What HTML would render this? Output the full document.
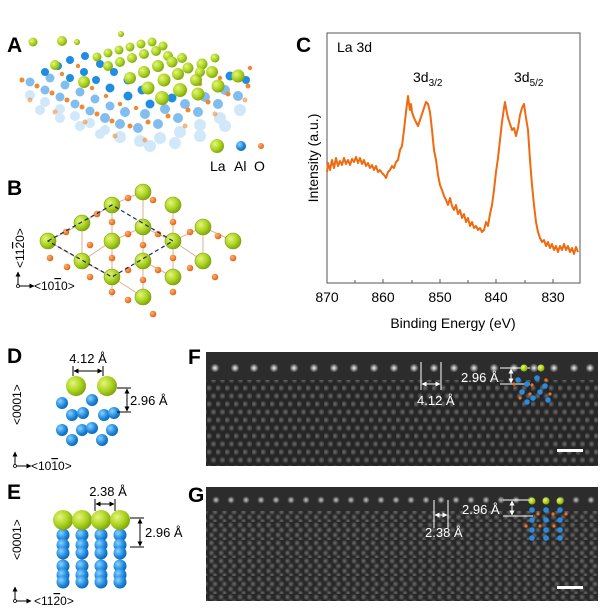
<!DOCTYPE html>
<html><head><meta charset="utf-8"><style>
html,body{margin:0;padding:0;background:#fff}
svg{display:block}
text{font-family:"Liberation Sans",sans-serif}
.lb{font-weight:bold;font-size:21px}
</style></head><body>
<svg width="600" height="610" viewBox="0 0 600 610" xmlns="http://www.w3.org/2000/svg">
<defs>
<radialGradient id="gG" cx="0.35" cy="0.35" r="0.7"><stop offset="0" stop-color="#e6f57a"/><stop offset="0.6" stop-color="#a8d21e"/><stop offset="1" stop-color="#7fa010"/></radialGradient>
<radialGradient id="gB" cx="0.35" cy="0.35" r="0.7"><stop offset="0" stop-color="#8fd0ff"/><stop offset="0.6" stop-color="#1f8de0"/><stop offset="1" stop-color="#1060b0"/></radialGradient>
<radialGradient id="gO" cx="0.35" cy="0.35" r="0.7"><stop offset="0" stop-color="#ffb070"/><stop offset="1" stop-color="#e06010"/></radialGradient>
<radialGradient id="dot" cx="0.5" cy="0.5" r="0.5"><stop offset="0" stop-color="#6e6e6e"/><stop offset="1" stop-color="#6e6e6e" stop-opacity="0"/></radialGradient>
<radialGradient id="dotB" cx="0.5" cy="0.5" r="0.5"><stop offset="0" stop-color="#f4f4f4"/><stop offset="1" stop-color="#eee" stop-opacity="0"/></radialGradient>
<pattern id="latF" width="9" height="16" patternUnits="userSpaceOnUse">
<rect width="9" height="16" fill="#262626"/>
<circle cx="2" cy="4" r="3.6" fill="url(#dot)"/><circle cx="6.5" cy="12" r="3.6" fill="url(#dot)"/>
</pattern>
<pattern id="latG" width="9.5" height="18" patternUnits="userSpaceOnUse">
<rect width="9.5" height="18" fill="#282828"/>
<circle cx="2.5" cy="3" r="3.4" fill="url(#dot)"/><circle cx="6" cy="8" r="3.4" fill="url(#dot)"/><circle cx="2.5" cy="13" r="3.4" fill="url(#dot)"/><circle cx="6" cy="17" r="2.8" fill="url(#dot)"/>
</pattern>
<marker id="ar" viewBox="0 0 10 10" refX="9" refY="5" markerWidth="5" markerHeight="5" orient="auto-start-reverse"><path d="M0,0L10,5L0,10z" fill="#000"/></marker>
<marker id="arw" viewBox="0 0 10 10" refX="9" refY="5" markerWidth="5" markerHeight="5" orient="auto-start-reverse"><path d="M0,0L10,5L0,10z" fill="#fff"/></marker>
</defs>

<!-- Panel A -->
<text class="lb" x="7" y="52">A</text>
<g id="A">
<g opacity="0.35">
<g fill="#7cc0f0">
<circle cx="30" cy="95" r="5"/><circle cx="45" cy="102" r="5"/><circle cx="60" cy="109" r="5"/><circle cx="75" cy="116" r="5"/><circle cx="90" cy="123" r="5"/><circle cx="105" cy="130" r="5"/><circle cx="120" cy="137" r="6"/><circle cx="140" cy="141" r="6"/><circle cx="160" cy="138" r="6"/><circle cx="180" cy="132" r="6"/><circle cx="200" cy="125" r="6"/><circle cx="220" cy="118" r="6"/><circle cx="240" cy="110" r="6"/>
<circle cx="40" cy="110" r="5"/><circle cx="60" cy="118" r="5"/><circle cx="80" cy="126" r="5"/><circle cx="100" cy="134" r="5"/><circle cx="150" cy="146" r="6"/><circle cx="175" cy="143" r="6"/><circle cx="200" cy="136" r="6"/><circle cx="225" cy="126" r="6"/>
</g></g>
<g fill="#58a8ea" opacity="0.75">
<circle cx="30" cy="82" r="4.5"/><circle cx="45" cy="90" r="4.5"/><circle cx="60" cy="97" r="4.5"/><circle cx="75" cy="104" r="4.5"/><circle cx="90" cy="111" r="4.5"/><circle cx="105" cy="118" r="5"/><circle cx="120" cy="124" r="5"/><circle cx="138" cy="128" r="5"/><circle cx="158" cy="124" r="5"/><circle cx="178" cy="118" r="5"/><circle cx="198" cy="112" r="5"/><circle cx="218" cy="104" r="5"/><circle cx="238" cy="96" r="5"/>
<circle cx="50" cy="78" r="4.5"/><circle cx="65" cy="85" r="4.5"/><circle cx="80" cy="92" r="4.5"/><circle cx="95" cy="99" r="4.5"/><circle cx="110" cy="106" r="4.5"/><circle cx="125" cy="112" r="5"/><circle cx="145" cy="114" r="5"/><circle cx="165" cy="109" r="5"/><circle cx="185" cy="104" r="5"/><circle cx="205" cy="97" r="5"/><circle cx="225" cy="90" r="5"/>
</g>
<g fill="#1f8de0">
<circle cx="45" cy="72" r="4"/><circle cx="58" cy="66" r="4"/><circle cx="70" cy="60" r="4"/><circle cx="70" cy="78" r="4"/><circle cx="84" cy="72" r="4"/><circle cx="96" cy="80" r="4"/><circle cx="110" cy="88" r="4.5"/><circle cx="85" cy="56" r="4"/><circle cx="100" cy="64" r="4"/><circle cx="114" cy="72" r="4"/><circle cx="128" cy="80" r="4.5"/><circle cx="142" cy="90" r="4.5"/><circle cx="128" cy="96" r="4.5"/><circle cx="150" cy="104" r="4.5"/><circle cx="172" cy="98" r="4.5"/><circle cx="230" cy="76" r="4.5"/><circle cx="246" cy="80" r="4"/>
</g>
<g fill="#f08a30">
<circle cx="22" cy="80" r="2.5"/><circle cx="37" cy="86" r="2.5"/><circle cx="52" cy="93" r="2.5"/><circle cx="67" cy="100" r="2.5"/><circle cx="82" cy="107" r="2.5"/><circle cx="97" cy="114" r="2.5"/><circle cx="112" cy="121" r="2.5"/><circle cx="130" cy="126" r="2.5"/><circle cx="148" cy="122" r="2.5"/><circle cx="168" cy="116" r="2.5"/><circle cx="188" cy="110" r="2.5"/><circle cx="208" cy="102" r="2.5"/><circle cx="228" cy="94" r="2.5"/><circle cx="248" cy="86" r="2.5"/>
<circle cx="30" cy="100" r="2.5" opacity=".6"/><circle cx="55" cy="112" r="2.5" opacity=".6"/><circle cx="85" cy="122" r="2.5" opacity=".6"/><circle cx="115" cy="136" r="2.5" opacity=".6"/><circle cx="145" cy="140" r="2.5" opacity=".6"/><circle cx="185" cy="126" r="2.5" opacity=".6"/><circle cx="215" cy="114" r="2.5" opacity=".6"/><circle cx="245" cy="100" r="2.5" opacity=".6"/>
<circle cx="62" cy="74" r="2.2"/><circle cx="78" cy="66" r="2.2"/><circle cx="92" cy="88" r="2.2"/><circle cx="106" cy="96" r="2.2"/><circle cx="120" cy="104" r="2.2"/><circle cx="136" cy="108" r="2.2"/><circle cx="160" cy="96" r="2.2"/><circle cx="180" cy="90" r="2.2"/><circle cx="200" cy="84" r="2.2"/><circle cx="220" cy="78" r="2.2"/><circle cx="240" cy="72" r="2.2"/><circle cx="250" cy="68" r="2.2"/>
</g>
<g fill="url(#gG)">
<circle cx="33" cy="42" r="4.5"/><circle cx="62" cy="41" r="5"/><circle cx="77" cy="42" r="3"/><circle cx="121" cy="34" r="3"/>
<circle cx="55" cy="65" r="5"/><circle cx="84" cy="82" r="6"/>
<circle cx="97" cy="57" r="4.5"/><circle cx="108" cy="53" r="4.5"/><circle cx="119" cy="50" r="4.5"/><circle cx="130" cy="47" r="4.5"/><circle cx="141" cy="44" r="4.5"/><circle cx="152" cy="42" r="4.5"/><circle cx="163" cy="46" r="4.5"/>
<circle cx="108" cy="66" r="5"/><circle cx="120" cy="62" r="5"/><circle cx="132" cy="58" r="5"/><circle cx="144" cy="54" r="5"/><circle cx="156" cy="51" r="5"/><circle cx="168" cy="56" r="5"/><circle cx="182" cy="58" r="5"/>
<circle cx="130" cy="78" r="6"/><circle cx="144" cy="72" r="6"/><circle cx="158" cy="66" r="6"/><circle cx="172" cy="62" r="5.5"/><circle cx="188" cy="68" r="5.5"/><circle cx="202" cy="64" r="5.5"/>
<circle cx="148" cy="88" r="6.5"/><circle cx="164" cy="80" r="6.5"/><circle cx="178" cy="74" r="6"/><circle cx="196" cy="80" r="6"/><circle cx="212" cy="72" r="6"/>
<circle cx="162" cy="98" r="7"/><circle cx="180" cy="90" r="7"/><circle cx="198" cy="94" r="6.5"/><circle cx="218" cy="86" r="6.5"/><circle cx="238" cy="76" r="6.5"/>
<circle cx="200" cy="72" r="5"/><circle cx="215" cy="58" r="4.5"/>
</g>
</g>
<g>
<circle cx="217" cy="146" r="7" fill="url(#gG)"/><circle cx="241" cy="146" r="5" fill="url(#gB)"/><circle cx="261" cy="146" r="3" fill="url(#gO)"/>
<text x="210" y="171" font-size="14">La</text><text x="234" y="171" font-size="14">Al</text><text x="254" y="171" font-size="14">O</text>
</g>

<!-- Panel B -->
<text class="lb" x="7" y="195">B</text>
<g stroke="#e0b090" stroke-width="1" fill="none">
<path d="M48,241 L66,232 L82,223 L97,214 L112,205 L128,198 L143,192 M112,205 L112,297 M143,192 L143,297 M82,223 L82,261 M173,205 L173,277 M203,227 L203,261 M48,241 L82,261 L112,277 L143,297 M82,261 L112,241 L143,227 L173,241 L203,227 L233,241 M143,261 L173,277 M173,241 L203,261"/>
</g>
<g fill="url(#gO)">
<circle cx="66" cy="232" r="3.3"/><circle cx="97" cy="214" r="3.3"/><circle cx="128" cy="198" r="3.3"/><circle cx="90" cy="245" r="3.3"/><circle cx="112" cy="222" r="3.3"/><circle cx="50" cy="258" r="3.3"/><circle cx="67" cy="267" r="3.3"/><circle cx="90" cy="277" r="3.3"/><circle cx="112" cy="258" r="3.3"/><circle cx="128" cy="270" r="3.3"/><circle cx="128" cy="234" r="3.3"/><circle cx="153" cy="200" r="3.3"/><circle cx="173" cy="222" r="3.3"/><circle cx="158" cy="234" r="3.3"/><circle cx="143" cy="245" r="3.3"/><circle cx="173" cy="258" r="3.3"/><circle cx="158" cy="270" r="3.3"/><circle cx="143" cy="280" r="3.3"/><circle cx="190" cy="232" r="3.3"/><circle cx="218" cy="236" r="3.3"/><circle cx="233" cy="258" r="3.3"/><circle cx="190" cy="268" r="3.3"/><circle cx="215" cy="277" r="3.3"/><circle cx="173" cy="292" r="3.3"/><circle cx="128" cy="300" r="3.3"/><circle cx="153" cy="314" r="3.3"/><circle cx="112" cy="292" r="3.3"/>
</g>
<g fill="url(#gG)" stroke="#7fa010" stroke-width="0.6">
<circle cx="48" cy="241" r="8"/><circle cx="82" cy="223" r="8"/><circle cx="112" cy="205" r="8"/><circle cx="143" cy="192" r="8"/><circle cx="173" cy="205" r="8"/><circle cx="82" cy="261" r="8"/><circle cx="112" cy="241" r="8"/><circle cx="143" cy="227" r="8"/><circle cx="173" cy="241" r="8"/><circle cx="112" cy="277" r="8"/><circle cx="143" cy="261" r="8"/><circle cx="173" cy="277" r="8"/><circle cx="203" cy="227" r="8"/><circle cx="203" cy="261" r="8"/><circle cx="233" cy="241" r="8"/><circle cx="143" cy="297" r="8"/>
</g>
<path d="M48,241 L112,205 L173,241 L112,277 Z" fill="none" stroke="#1a2a5a" stroke-width="1.2" stroke-dasharray="4,3"/>
<g stroke="#000" stroke-width="1" fill="none"><path d="M18,286 L18,272" marker-end="url(#ar)"/><path d="M18,286 L34,286" marker-end="url(#ar)"/></g>
<circle cx="18" cy="286" r="1.5" fill="#fff" stroke="#000" stroke-width="0.8"/>
<text transform="translate(24,268) rotate(-90)" font-size="12">&lt;11<tspan text-decoration="overline">2</tspan>0&gt;</text>
<text x="34" y="290" font-size="12">&lt;10<tspan text-decoration="overline">1</tspan>0&gt;</text>

<!-- Panel C -->
<text class="lb" x="296" y="52">C</text>
<rect x="327" y="33" width="253" height="250" fill="none" stroke="#555" stroke-width="1"/>
<g stroke="#555" stroke-width="1">
<path d="M327,283v-4M355,283v-3M383,283v-4M412,283v-3M440,283v-4M468,283v-3M496,283v-4M525,283v-3M553,283v-4"/>
</g>
<g font-size="14" text-anchor="middle">
<text x="327" y="302">870</text><text x="383" y="302">860</text><text x="440" y="302">850</text><text x="496" y="302">840</text><text x="553" y="302">830</text>
</g>
<text x="453" y="328" font-size="14" text-anchor="middle">Binding Energy (eV)</text>
<text transform="translate(318,158) rotate(-90)" font-size="14" text-anchor="middle">Intensity (a.u.)</text>
<text x="337" y="52" font-size="14">La 3d</text>
<text x="413" y="82" font-size="14">3d<tspan font-size="10" dy="4">3/2</tspan></text>
<text x="514" y="82" font-size="14">3d<tspan font-size="10" dy="4">5/2</tspan></text>
<polyline fill="none" stroke="#f06a10" stroke-width="2" stroke-linejoin="round" points="327,172 328,163 330,170 332,160 334,168 336,158 338,166 340,161 342,165 344,158 346,164 348,160 350,165 352,159 354,162 356,157 358,163 360,158 362,164 364,160 366,166 368,163 370,168 372,165 374,170 376,166 378,172 380,170 382,173 384,175 386,178 388,172 390,170 392,166 394,168 396,162 398,160 400,150 402,146 404,130 406,112 408,96 409,104 410,110 411,104 412,112 414,118 416,122 418,126 420,120 422,114 424,108 426,102 428,104 430,112 432,130 434,150 436,160 438,175 440,185 442,190 444,196 446,200 448,205 450,198 452,206 454,210 456,205 458,214 460,210 462,218 464,214 466,222 468,218 470,226 472,222 474,228 476,226 478,230 480,228 482,232 484,230 486,222 488,226 490,214 492,205 494,190 496,172 498,158 500,140 502,122 504,108 505,102 506,108 508,118 510,124 512,130 514,128 516,136 518,128 520,115 522,108 524,104 526,118 528,130 530,160 532,185 534,205 536,222 538,232 540,238 542,242 544,240 546,246 548,242 550,248 552,244 554,250 556,246 558,252 560,246 562,250 564,244 566,250 568,246 570,252 572,248 574,254 576,247 578,252"/>

<!-- Panel D -->
<text class="lb" x="7" y="363">D</text>
<text x="88" y="363" font-size="13" text-anchor="middle">4.12 Å</text>
<path d="M73,366v10M103,366v10" stroke="#000"/>
<path d="M74,371 L102,371" stroke="#000" marker-start="url(#ar)" marker-end="url(#ar)"/>
<g fill="url(#gB)">
<circle cx="62" cy="403" r="6"/><circle cx="92" cy="400" r="6"/><circle cx="72" cy="415" r="6"/><circle cx="83" cy="413" r="6"/><circle cx="104" cy="415" r="6"/><circle cx="114" cy="413" r="6"/><circle cx="62" cy="430" r="6"/><circle cx="72" cy="440" r="6"/><circle cx="82" cy="430" r="6"/><circle cx="92" cy="428" r="6"/><circle cx="102" cy="440" r="6"/><circle cx="112" cy="430" r="6"/>
</g>
<g fill="url(#gG)"><circle cx="76" cy="386" r="10"/><circle cx="107" cy="386" r="10"/></g>
<path d="M117,388h14M117,412h14" stroke="#000"/>
<path d="M127,389 L127,411" stroke="#000" marker-start="url(#ar)" marker-end="url(#ar)"/>
<text x="130" y="405" font-size="13">2.96 Å</text>
<text transform="translate(21,425) rotate(-90)" font-size="12">&lt;0001&gt;</text>
<g stroke="#000" fill="none"><path d="M15,466 L15,452" marker-end="url(#ar)"/><path d="M15,466 L31,466" marker-end="url(#ar)"/></g>
<circle cx="15" cy="466" r="1.5" fill="#fff" stroke="#000" stroke-width="0.8"/>
<text x="31" y="470" font-size="12">&lt;10<tspan text-decoration="overline">1</tspan>0&gt;</text>

<!-- Panel E -->
<text class="lb" x="7" y="499">E</text>
<text x="108" y="496" font-size="13" text-anchor="middle">2.38 Å</text>
<path d="M95,499v12M115,499v12" stroke="#000"/>
<path d="M96,504 L114,504" stroke="#000" marker-start="url(#ar)" marker-end="url(#ar)"/>
<g fill="url(#gB)">
<g id="col"><circle cx="63" cy="535" r="6.5"/><circle cx="63" cy="545" r="6.5"/><circle cx="63" cy="553" r="6.5"/><circle cx="63" cy="566" r="6.5"/><circle cx="63" cy="575" r="6.5"/><circle cx="63" cy="582" r="6.5"/></g>
<use href="#col" x="19"/><use href="#col" x="38"/><use href="#col" x="57"/>
</g>
<g fill="url(#gG)"><circle cx="63" cy="520" r="10"/><circle cx="82" cy="520" r="10"/><circle cx="101" cy="520" r="10"/><circle cx="120" cy="520" r="10"/></g>
<path d="M130,518h14M130,547h14" stroke="#000"/>
<path d="M140,519 L140,546" stroke="#000" marker-start="url(#ar)" marker-end="url(#ar)"/>
<text x="145" y="537" font-size="13">2.96 Å</text>
<text transform="translate(21,560) rotate(-90)" font-size="12">&lt;0001&gt;</text>
<g stroke="#000" fill="none"><path d="M15,601 L15,587" marker-end="url(#ar)"/><path d="M15,601 L31,601" marker-end="url(#ar)"/></g>
<circle cx="15" cy="601" r="1.5" fill="#fff" stroke="#000" stroke-width="0.8"/>
<text x="34" y="605" font-size="12">&lt;11<tspan text-decoration="overline">2</tspan>0&gt;</text>

<!-- Panel F -->
<text class="lb" x="188" y="364">F</text>
<rect x="206" y="352" width="392" height="114" fill="url(#latF)"/>
<rect x="206" y="352" width="392" height="28" fill="#2c2c2c"/>
<g fill="url(#dotB)">
<circle cx="215" cy="368" r="4.5"/><circle cx="235" cy="368" r="4.5"/><circle cx="254" cy="368" r="4.5"/><circle cx="274" cy="368" r="4.5"/><circle cx="294" cy="368" r="4.5"/><circle cx="314" cy="368" r="4.5"/><circle cx="334" cy="368" r="4.5"/><circle cx="354" cy="368" r="4.5"/><circle cx="374" cy="368" r="4.5"/><circle cx="394" cy="368" r="4.5"/><circle cx="414" cy="368" r="4.5"/><circle cx="434" cy="368" r="4.5"/><circle cx="454" cy="368" r="4.5"/><circle cx="474" cy="368" r="4.5"/><circle cx="494" cy="368" r="4.5"/><circle cx="514" cy="368" r="4.5"/><circle cx="534" cy="368" r="4.5"/><circle cx="554" cy="368" r="4.5"/><circle cx="574" cy="368" r="4.5"/><circle cx="590" cy="368" r="4.5"/>
</g>
<path d="M421,362v28M441,362v28" stroke="#fff"/>
<path d="M422,384 L440,384" stroke="#fff" marker-start="url(#arw)" marker-end="url(#arw)"/>
<text x="417" y="405" font-size="13" fill="#fff">4.12 Å</text>
<path d="M500,368h30M500,384h30" stroke="#fff"/>
<path d="M511,369 L511,383" stroke="#fff" marker-start="url(#arw)" marker-end="url(#arw)"/>
<text x="461" y="382" font-size="13" fill="#fff">2.96 Å</text>
<g fill="url(#gG)"><circle cx="524" cy="368" r="3.5"/><circle cx="541" cy="368" r="3.5"/></g>
<g fill="#2a8ae0"><circle cx="518" cy="380" r="2.8"/><circle cx="537" cy="378" r="2.8"/><circle cx="527" cy="384" r="2.8"/><circle cx="545" cy="386" r="2.8"/><circle cx="522" cy="392" r="2.8"/><circle cx="540" cy="392" r="2.8"/><circle cx="527" cy="402" r="2.8"/><circle cx="548" cy="400" r="2.8"/><circle cx="533" cy="398" r="2.8"/></g>
<g fill="#f07020"><circle cx="514" cy="384" r="1.6"/><circle cx="532" cy="385" r="1.6"/><circle cx="546" cy="380" r="1.6"/><circle cx="530" cy="394" r="1.6"/><circle cx="550" cy="394" r="1.6"/><circle cx="520" cy="398" r="1.6"/></g>
<rect x="557" y="449" width="26" height="3" fill="#fff"/>

<!-- Panel G -->
<text class="lb" x="188" y="502">G</text>
<rect x="206" y="487" width="392" height="114" fill="url(#latG)"/>
<rect x="206" y="487" width="392" height="24" fill="#2c2c2c"/>
<g fill="url(#dotB)" opacity="0.8">
<circle cx="216" cy="500" r="3.8"/><circle cx="231" cy="500" r="3.8"/><circle cx="246" cy="500" r="3.8"/><circle cx="261" cy="500" r="3.8"/><circle cx="276" cy="500" r="3.8"/><circle cx="291" cy="500" r="3.8"/><circle cx="306" cy="500" r="3.8"/><circle cx="321" cy="500" r="3.8"/><circle cx="336" cy="500" r="3.8"/><circle cx="351" cy="500" r="3.8"/><circle cx="366" cy="500" r="3.8"/><circle cx="381" cy="500" r="3.8"/><circle cx="396" cy="500" r="3.8"/><circle cx="411" cy="500" r="3.8"/><circle cx="426" cy="500" r="3.8"/><circle cx="441" cy="500" r="3.8"/><circle cx="456" cy="500" r="3.8"/><circle cx="471" cy="500" r="3.8"/><circle cx="486" cy="500" r="3.8"/><circle cx="501" cy="500" r="3.8"/><circle cx="516" cy="500" r="3.8"/><circle cx="531" cy="500" r="3.8"/><circle cx="546" cy="500" r="3.8"/><circle cx="561" cy="500" r="3.8"/><circle cx="576" cy="500" r="3.8"/><circle cx="591" cy="500" r="3.8"/>
</g>
<path d="M434,500v28M448,500v28" stroke="#fff"/>
<path d="M435,515 L447,515" stroke="#fff" marker-start="url(#arw)" marker-end="url(#arw)"/>
<text x="425" y="537" font-size="13" fill="#fff">2.38 Å</text>
<path d="M503,500h30M503,516h30" stroke="#fff"/>
<path d="M512,501 L512,515" stroke="#fff" marker-start="url(#arw)" marker-end="url(#arw)"/>
<text x="462" y="514" font-size="13" fill="#fff">2.96 Å</text>
<g fill="url(#gG)"><circle cx="532" cy="501" r="3.5"/><circle cx="546" cy="501" r="3.5"/><circle cx="560" cy="501" r="3.5"/></g>
<g fill="#2a8ae0"><circle cx="532" cy="510" r="2.8"/><circle cx="546" cy="510" r="2.8"/><circle cx="560" cy="510" r="2.8"/><circle cx="532" cy="520" r="2.8"/><circle cx="546" cy="520" r="2.8"/><circle cx="560" cy="520" r="2.8"/><circle cx="532" cy="530" r="2.8"/><circle cx="546" cy="530" r="2.8"/><circle cx="560" cy="530" r="2.8"/><circle cx="532" cy="538" r="2.8"/><circle cx="546" cy="538" r="2.8"/><circle cx="560" cy="538" r="2.8"/></g>
<g fill="#f07020"><circle cx="538" cy="514" r="1.6"/><circle cx="553" cy="514" r="1.6"/><circle cx="566" cy="514" r="1.6"/><circle cx="526" cy="526" r="1.6"/><circle cx="540" cy="526" r="1.6"/><circle cx="554" cy="526" r="1.6"/></g>
<rect x="557" y="586" width="26" height="3" fill="#fff"/>
</svg>
</body></html>
